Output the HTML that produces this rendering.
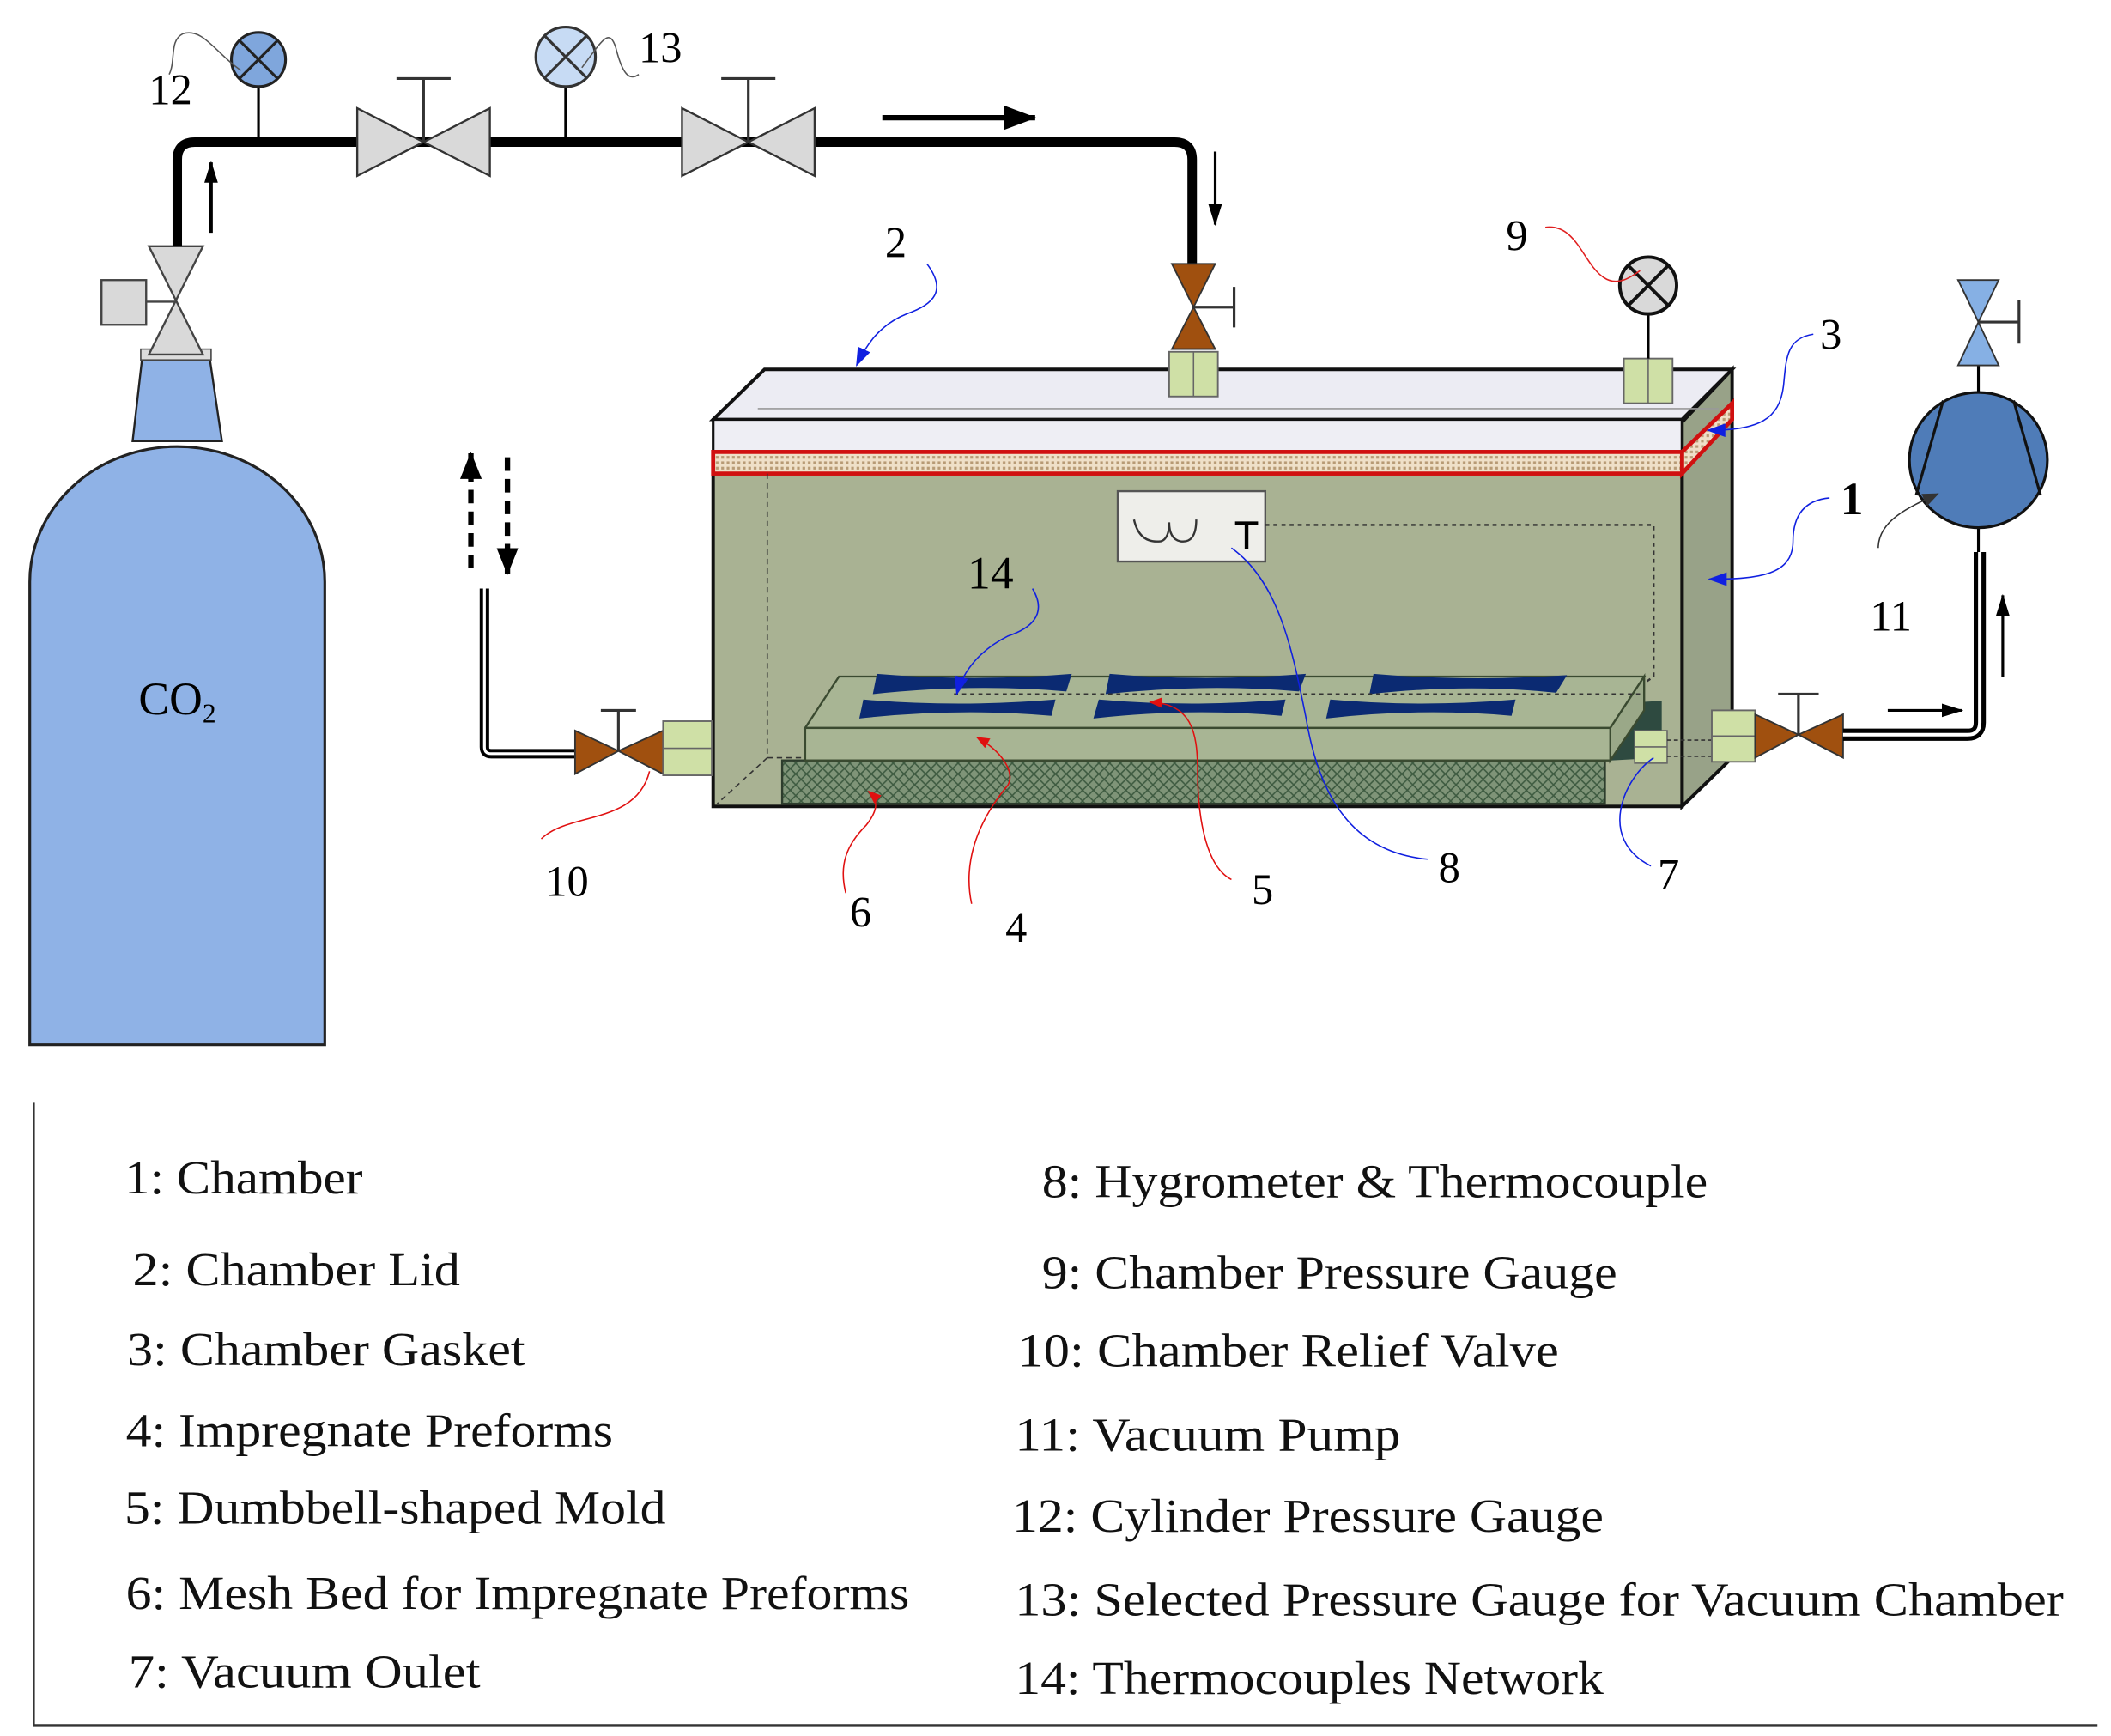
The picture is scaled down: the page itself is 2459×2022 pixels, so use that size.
<!DOCTYPE html>
<html><head><meta charset="utf-8"><style>html,body{margin:0;padding:0;background:#fff}svg{display:block}</style></head><body>
<svg width="2459" height="2022" viewBox="0 0 1560 1283" preserveAspectRatio="none" xmlns="http://www.w3.org/2000/svg" font-family="Liberation Serif, serif">
<defs>
<pattern id="mesh" width="8" height="8" patternUnits="userSpaceOnUse"><rect width="8" height="8" fill="#7f9478"/><path d="M0,0L8,8M8,0L0,8" stroke="#3d5a40" stroke-width="1"/></pattern>
<pattern id="gask" width="4" height="4" patternUnits="userSpaceOnUse"><rect width="4" height="4" fill="#efe0c8"/><rect x="1" y="1" width="2" height="2" fill="#b79a74"/></pattern>
<marker id="ah" markerUnits="userSpaceOnUse" markerWidth="24" markerHeight="18" refX="23" refY="9" orient="auto"><path d="M0,0L24,9L0,18Z" fill="#000"/></marker>
<marker id="ahd" markerUnits="userSpaceOnUse" markerWidth="20" markerHeight="16" refX="19" refY="8" orient="auto"><path d="M0,0L20,8L0,16Z" fill="#000"/></marker>
<marker id="ahs" markerUnits="userSpaceOnUse" markerWidth="16" markerHeight="10" refX="15" refY="5" orient="auto"><path d="M0,0L16,5L0,10Z" fill="#000"/></marker>
<marker id="bh" markerUnits="userSpaceOnUse" markerWidth="14" markerHeight="10" refX="13" refY="5" orient="auto"><path d="M0,0L14,5L0,10Z" fill="#1020e0"/></marker>
<marker id="rh" markerUnits="userSpaceOnUse" markerWidth="10" markerHeight="8" refX="9" refY="4" orient="auto"><path d="M0,0L10,4L0,8Z" fill="#e01010"/></marker>
<marker id="gh" markerUnits="userSpaceOnUse" markerWidth="12" markerHeight="10" refX="11" refY="5" orient="auto"><path d="M0,0L12,5L0,10Z" fill="#333"/></marker>
</defs>
<!-- cylinder -->
<path d="M22,772 L22,430 A109,100 0 0 1 240,430 L240,772 Z" fill="#8fb2e6" stroke="#222" stroke-width="2"/>
<path d="M105,265 L155,265 L164,326 L98,326 Z" fill="#8fb2e6" stroke="#222" stroke-width="1.5"/>
<rect x="104" y="258" width="52" height="8" fill="#ddd" stroke="#444"/>
<text x="131" y="528" font-size="34" text-anchor="middle">CO<tspan font-size="20" dy="6">2</tspan></text>
<!-- cylinder valve -->
<path d="M110,182 L150,182 L130,222 Z M110,262 L150,262 L130,222 Z" fill="#d9d9d9" stroke="#444" stroke-width="1.5"/>
<rect x="75" y="207" width="33" height="33" fill="#d9d9d9" stroke="#444" stroke-width="1.5"/>
<line x1="108" y1="223" x2="130" y2="223" stroke="#444" stroke-width="1.5"/>
<!-- main pipe -->
<path d="M131,182 L131,118 Q131,105 144,105 L868,105 Q881,105 881,118 L881,196" fill="none" stroke="#000" stroke-width="7"/>
<line x1="156" y1="172" x2="156" y2="120" stroke="#000" stroke-width="2.5" marker-end="url(#ahs)"/>
<line x1="652" y1="87" x2="765" y2="87" stroke="#000" stroke-width="4" marker-end="url(#ah)"/>
<line x1="898" y1="112" x2="898" y2="166" stroke="#000" stroke-width="2" marker-end="url(#ahs)"/>
<!-- gauges -->
<line x1="191" y1="62" x2="191" y2="105" stroke="#000" stroke-width="2"/>
<circle cx="191" cy="44" r="20" fill="#7fa6dc" stroke="#222" stroke-width="2"/>
<path d="M177,30L205,58M205,30L177,58" stroke="#222" stroke-width="2"/>
<path d="M178,52 C160,40 150,20 135,25 C125,30 130,45 125,55" fill="none" stroke="#555" stroke-width="1"/>
<text x="110" y="77" font-size="32">12</text>
<line x1="418" y1="64" x2="418" y2="105" stroke="#000" stroke-width="2"/>
<circle cx="418" cy="42" r="22" fill="#c7dbf4" stroke="#333" stroke-width="2"/>
<path d="M403,27L433,57M433,27L403,57" stroke="#333" stroke-width="2"/>
<path d="M430,50 C445,30 450,20 455,35 C460,55 465,60 472,55" fill="none" stroke="#555" stroke-width="1"/>
<text x="472" y="46" font-size="32">13</text>
<!-- gate valves -->
<g fill="#d9d9d9" stroke="#333" stroke-width="1.5">
<path d="M264,80 L313,105 L264,130 Z M362,80 L313,105 L362,130 Z"/>
<path d="M504,80 L553,105 L504,130 Z M602,80 L553,105 L602,130 Z"/>
</g>
<path d="M313,105V58M293,58H333M553,105V58M533,58H573" stroke="#333" stroke-width="2"/>
<!-- chamber -->
<path d="M1243,312 L1280,273 L1280,560 L1243,596 Z" fill="#98a288" stroke="#111" stroke-width="2.5"/>
<rect x="527" y="350" width="716" height="246" fill="#a9b293" stroke="#111" stroke-width="2.5"/>
<path d="M527,310 L565,273 L1280,273 L1243,310 Z" fill="#ececf3" stroke="#111" stroke-width="2.5"/>
<rect x="527" y="310" width="716" height="24" fill="#eeeef4" stroke="#111" stroke-width="2"/>
<line x1="560" y1="302" x2="1270" y2="302" stroke="#999" stroke-width="1"/>
<path d="M1243,334 L1280,298 L1280,310 L1243,350 Z" fill="url(#gask)" stroke="#d01010" stroke-width="3"/>
<rect x="527" y="334" width="716" height="16" fill="url(#gask)" stroke="#d01010" stroke-width="3"/>
<path d="M567,350 V560 L530,594" fill="none" stroke="#333" stroke-width="1" stroke-dasharray="4,3"/>
<line x1="567" y1="560" x2="600" y2="560" stroke="#333" stroke-width="1" stroke-dasharray="4,3"/>
<!-- hygrometer -->
<rect x="826" y="363" width="109" height="52" fill="#eeeeea" stroke="#555" stroke-width="1.5"/>
<path d="M838,384 Q842,402 858,400 Q864,398 864,386 Q864,398 872,400 Q884,402 884,384" fill="none" stroke="#333" stroke-width="1.5"/>
<text x="912" y="406" font-size="30" font-family="Liberation Sans, sans-serif">T</text>
<path d="M935,388 H1222 V500 L1205,512" fill="none" stroke="#333" stroke-width="1.5" stroke-dasharray="3,3"/>
<!-- dark slab -->
<path d="M1190,520 L1228,518 L1228,560 L1190,562 Z" fill="#2e4a40"/>
<!-- mesh bed -->
<rect x="578" y="562" width="608" height="32" fill="url(#mesh)" stroke="#2d3d2d" stroke-width="1.5"/>
<!-- mold -->
<path d="M595,538 L620,500 L1215,500 L1190,538 Z" fill="#a8b594" stroke="#3a4a30" stroke-width="1.5"/>
<path d="M1190,538 L1215,500 L1215,525 L1190,562 Z" fill="#9aa888" stroke="#3a4a30" stroke-width="1.5"/>
<rect x="595" y="538" width="595" height="24" fill="#a8b594" stroke="#3a4a30" stroke-width="1.5"/>
<g fill="#0b2a72">
<path d="M648,498 Q720,504 792,498 L788,511 Q720,505 645,513 Z"/>
<path d="M820,498 Q890,504 965,498 L960,511 Q890,505 817,513 Z"/>
<path d="M1015,498 Q1085,504 1158,499 L1150,512 Q1085,505 1012,513 Z"/>
<path d="M638,517 Q708,523 780,517 L777,529 Q708,523 635,531 Z"/>
<path d="M812,517 Q880,523 950,517 L947,529 Q880,523 808,531 Z"/>
<path d="M983,517 Q1050,523 1120,517 L1117,529 Q1050,523 980,531 Z"/>
</g>
<path d="M705,513 L1215,513" stroke="#333" stroke-width="1.2" stroke-dasharray="3,3"/>
<!-- lid connectors -->
<rect x="864" y="260" width="36" height="33" fill="#cfe0a6" stroke="#666" stroke-width="1.2"/><line x1="882" y1="260" x2="882" y2="293" stroke="#666"/>
<rect x="1200" y="265" width="36" height="33" fill="#cfe0a6" stroke="#666" stroke-width="1.2"/><line x1="1218" y1="265" x2="1218" y2="298" stroke="#666"/>
<!-- brown inlet valve -->
<path d="M866,195 L898,195 L882,227 Z M866,258 L898,258 L882,227 Z" fill="#a0500f" stroke="#333" stroke-width="1.2"/>
<path d="M882,227 H912 M912,212 V242" stroke="#333" stroke-width="2"/>
<!-- gauge 9 -->
<line x1="1218" y1="232" x2="1218" y2="265" stroke="#000" stroke-width="2"/>
<circle cx="1218" cy="211" r="21" fill="#d9d9d9" stroke="#111" stroke-width="2.5"/>
<path d="M1203,196L1233,226M1233,196L1203,226" stroke="#111" stroke-width="2.5"/>
<path d="M1142,168 C1165,165 1170,195 1185,205 C1195,212 1205,205 1212,200" fill="none" stroke="#e02020" stroke-width="1"/>
<text x="1113" y="185" font-size="32">9</text>
<!-- left relief -->
<path d="M358,435 V552 Q358,557 363,557 H426" fill="none" stroke="#000" stroke-width="7"/>
<path d="M358,435 V552 Q358,557 363,557 H426" fill="none" stroke="#fff" stroke-width="2"/>
<path d="M425,540 L457,555 L425,572 Z M490,540 L457,555 L490,572 Z" fill="#a0500f" stroke="#333" stroke-width="1.2"/>
<path d="M457,555 V525 M444,525 H470" stroke="#333" stroke-width="2"/>
<rect x="490" y="533" width="36" height="40" fill="#cfe0a6" stroke="#666" stroke-width="1.2"/><line x1="490" y1="553" x2="526" y2="553" stroke="#666"/>
<line x1="348" y1="420" x2="348" y2="335" stroke="#000" stroke-width="4" stroke-dasharray="10,6" marker-end="url(#ahd)"/>
<line x1="375" y1="338" x2="375" y2="424" stroke="#000" stroke-width="4" stroke-dasharray="10,6" marker-end="url(#ahd)"/>
<!-- right outlet -->
<rect x="1208" y="540" width="24" height="24" fill="#cfe0a6" stroke="#666"/><line x1="1208" y1="552" x2="1232" y2="552" stroke="#666"/>
<path d="M1232,547 H1265 M1232,559 H1265" stroke="#333" stroke-width="1" stroke-dasharray="3,2"/>
<rect x="1265" y="525" width="32" height="38" fill="#cfe0a6" stroke="#666" stroke-width="1.2"/><line x1="1265" y1="544" x2="1297" y2="544" stroke="#666"/>
<path d="M1297,528 L1329,543 L1297,560 Z M1362,528 L1329,543 L1362,560 Z" fill="#a0500f" stroke="#333" stroke-width="1.2"/>
<path d="M1329,543 V513 M1314,513 H1344" stroke="#333" stroke-width="2"/>
<path d="M1362,543 H1454 Q1463,543 1463,534 V408" fill="none" stroke="#000" stroke-width="9"/>
<path d="M1362,543 H1454 Q1463,543 1463,534 V408" fill="none" stroke="#fff" stroke-width="2.5"/>
<line x1="1395" y1="525" x2="1450" y2="525" stroke="#000" stroke-width="2" marker-end="url(#ahs)"/>
<line x1="1480" y1="500" x2="1480" y2="440" stroke="#000" stroke-width="2" marker-end="url(#ahs)"/>
<!-- pump -->
<line x1="1462" y1="390" x2="1462" y2="408" stroke="#000" stroke-width="2"/>
<line x1="1462" y1="270" x2="1462" y2="290" stroke="#000" stroke-width="2"/>
<ellipse cx="1462" cy="340" rx="51" ry="50" fill="#4f7cb8" stroke="#111" stroke-width="2"/>
<path d="M1436,296 L1416,366 M1488,296 L1508,366" stroke="#111" stroke-width="2"/>
<path d="M1388,405 C1388,385 1410,375 1432,365" fill="none" stroke="#333" stroke-width="1" marker-end="url(#gh)"/>
<text x="1382" y="466" font-size="32">11</text>
<path d="M1447,207 L1477,207 L1462,238 Z M1447,270 L1477,270 L1462,238 Z" fill="#86b0e4" stroke="#333" stroke-width="1.2"/>
<path d="M1462,238 H1492 M1492,222 V254" stroke="#333" stroke-width="2"/>
<!-- callouts -->
<path d="M685,195 C700,215 690,225 670,232 C650,240 640,255 633,270" fill="none" stroke="#1020e0" stroke-width="1" marker-end="url(#bh)"/>
<text x="654" y="190" font-size="32">2</text>
<path d="M1340,247 C1320,250 1320,265 1318,285 C1315,310 1300,318 1262,318" fill="none" stroke="#1020e0" stroke-width="1" marker-end="url(#bh)"/>
<text x="1345" y="258" font-size="32">3</text>
<path d="M1352,368 C1330,370 1325,385 1325,400 C1325,425 1300,428 1263,428" fill="none" stroke="#1020e0" stroke-width="1" marker-end="url(#bh)"/>
<text x="1360" y="380" font-size="34" font-weight="bold">1</text>
<text x="715" y="435" font-size="34">14</text>
<path d="M763,435 C775,455 760,465 745,470 C725,480 712,495 707,513" fill="none" stroke="#1020e0" stroke-width="1" marker-end="url(#bh)"/>
<path d="M910,405 C945,430 955,480 965,530 C975,590 1000,630 1055,635" fill="none" stroke="#1020e0" stroke-width="1"/>
<text x="1063" y="652" font-size="32">8</text>
<path d="M1222,560 C1200,575 1180,620 1220,640" fill="none" stroke="#1020e0" stroke-width="1"/>
<text x="1225" y="657" font-size="32">7</text>
<path d="M910,650 C890,640 885,600 885,570 C885,540 880,520 850,519" fill="none" stroke="#e01010" stroke-width="1" marker-end="url(#rh)"/>
<text x="925" y="668" font-size="32">5</text>
<path d="M718,668 C712,640 720,610 745,580 C750,570 740,555 722,545" fill="none" stroke="#e01010" stroke-width="1" marker-end="url(#rh)"/>
<text x="743" y="696" font-size="32">4</text>
<path d="M625,660 C620,640 625,625 640,610 C648,600 650,592 642,585" fill="none" stroke="#e01010" stroke-width="1" marker-end="url(#rh)"/>
<text x="628" y="685" font-size="32">6</text>
<path d="M400,620 C420,600 470,610 480,570" fill="none" stroke="#e01010" stroke-width="1"/>
<text x="403" y="662" font-size="32">10</text>
<!-- legend -->
<path d="M25,815 V1275 H1550" fill="none" stroke="#333" stroke-width="1.5"/>
<g font-size="35" fill="#111">
<text x="92" y="882" textLength="176" lengthAdjust="spacingAndGlyphs">1: Chamber</text>
<text x="98" y="950" textLength="242" lengthAdjust="spacingAndGlyphs">2: Chamber Lid</text>
<text x="94" y="1009" textLength="294" lengthAdjust="spacingAndGlyphs">3: Chamber Gasket</text>
<text x="93" y="1069" textLength="360" lengthAdjust="spacingAndGlyphs">4: Impregnate Preforms</text>
<text x="92" y="1126" textLength="400" lengthAdjust="spacingAndGlyphs">5: Dumbbell-shaped Mold</text>
<text x="93" y="1189" textLength="579" lengthAdjust="spacingAndGlyphs">6: Mesh Bed for Impregnate Preforms</text>
<text x="95" y="1247" textLength="260" lengthAdjust="spacingAndGlyphs">7: Vacuum Oulet</text>
<text x="770" y="885" textLength="492" lengthAdjust="spacingAndGlyphs">8: Hygrometer &amp; Thermocouple</text>
<text x="770" y="952" textLength="425" lengthAdjust="spacingAndGlyphs">9: Chamber Pressure Gauge</text>
<text x="752" y="1010" textLength="400" lengthAdjust="spacingAndGlyphs">10: Chamber Relief Valve</text>
<text x="750" y="1072" textLength="285" lengthAdjust="spacingAndGlyphs">11: Vacuum Pump</text>
<text x="748" y="1132" textLength="437" lengthAdjust="spacingAndGlyphs">12: Cylinder Pressure Gauge</text>
<text x="750" y="1194" textLength="775" lengthAdjust="spacingAndGlyphs">13: Selected Pressure Gauge for Vacuum Chamber</text>
<text x="750" y="1252" textLength="435" lengthAdjust="spacingAndGlyphs">14: Thermocouples Network</text>
</g>
</svg>
</body></html>
